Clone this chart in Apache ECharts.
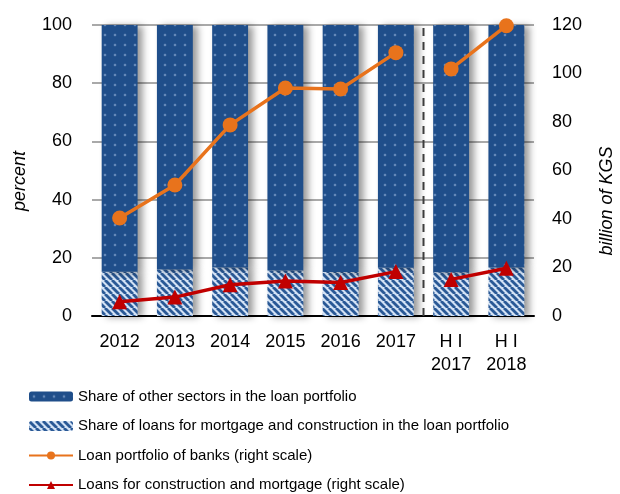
<!DOCTYPE html>
<html>
<head>
<meta charset="utf-8">
<script src="https://cdn.jsdelivr.net/npm/echarts@6/dist/echarts.min.js"></script>
<style>
    html, body { margin: 0; padding: 0; background: #fff; }
    #chart { width: 620px; height: 494px; }
</style>
</head>
<body>
<div id="chart"></div>
<script>
    var categories = ['2012', '2013', '2014', '2015', '2016', '2017', 'H I\n2017', 'H I\n2018'];
    var mortgageShare = [15.2, 16.0, 16.7, 15.6, 15.1, 16.6, 15.0, 16.7];
    var otherShare = [84.8, 84.0, 83.3, 84.4, 84.9, 83.4, 85.0, 83.3];
    var loanPortfolio = [40.4, 54.0, 78.8, 94.0, 93.6, 108.6, 101.9, 119.7];
    var constructionLoans = [5.9, 7.8, 12.9, 14.4, 13.8, 18.3, 15.1, 19.7];
    var breakIndex = 6; // dashed separator before half-year data

    var FONT = "'Liberation Sans Narrow', 'Arial Narrow', 'Liberation Sans', sans-serif";

    // dotted dark blue fill
    function dotPattern() {
        var c = document.createElement('canvas');
        c.width = 10; c.height = 10;
        var g = c.getContext('2d');
        g.fillStyle = '#1f4e8a';
        g.fillRect(0, 0, 10, 10);
        var rg = g.createRadialGradient(5, 5, 0, 5, 5, 2.2);
        rg.addColorStop(0, '#b5cdef');
        rg.addColorStop(1, 'rgba(31,78,138,0)');
        g.fillStyle = rg;
        g.fillRect(2, 2, 6, 6);
        return c;
    }

    // diagonal hatch fill
    function hatchPattern() {
        var s = 7;
        var c = document.createElement('canvas');
        c.width = s; c.height = s;
        var g = c.getContext('2d');
        g.fillStyle = '#d3e2f5';
        g.fillRect(0, 0, s, s);
        g.strokeStyle = '#2a5996';
        g.lineWidth = 2.8;
        for (var k = -1; k <= 1; k++) {
            g.beginPath();
            g.moveTo(k * s, 0);
            g.lineTo(k * s + s, s);
            g.stroke();
        }
        return c;
    }

    function firstPart(arr) {
        return arr.map(function (v, i) { return i < breakIndex ? v : '-'; });
    }
    function secondPart(arr) {
        return arr.map(function (v, i) { return i >= breakIndex ? v : '-'; });
    }

    var barShadow = {
        shadowColor: 'rgba(0,0,0,0.4)',
        shadowBlur: 7,
        shadowOffsetX: 5,
        shadowOffsetY: 1
    };

    var myChart = echarts.init(document.getElementById('chart'));

    var options = {
        animation: false,
        textStyle: { fontFamily: FONT },
        grid: { left: 92, right: 86, top: 25, bottom: 178 },
        legend: {
            orient: 'vertical',
            left: 28,
            top: 389,
            height: 140,
            padding: 0,
            itemWidth: 44,
            itemHeight: 10,
            itemGap: 14.5,
            textStyle: { fontFamily: FONT, fontSize: 15, color: '#000' },
            data: [
                'Share of other sectors in the loan portfolio',
                'Share of loans for mortgage and construction in the loan portfolio',
                'Loan portfolio of banks (right scale)',
                'Loans for construction and mortgage (right scale)'
            ]
        },
        xAxis: [{
            type: 'category',
            data: categories,
            axisLine: { lineStyle: { color: '#000', width: 2 } },
            axisTick: { inside: true, length: 5, lineStyle: { color: '#000', width: 1.5 } },
            axisLabel: { interval: 0, color: '#000', fontSize: 18, fontFamily: FONT, margin: 15, lineHeight: 23 }
        }, {
            type: 'value',
            min: 0,
            max: 8,
            show: false
        }],
        yAxis: [{
            type: 'value',
            min: 0,
            max: 100,
            interval: 20,
            axisLine: { show: false },
            axisTick: { show: false },
            splitLine: { lineStyle: { color: '#8c8c8c', width: 1.5 } },
            axisLabel: { color: '#000', fontSize: 18, fontFamily: FONT, margin: 20 }
        }, {
            type: 'value',
            min: 0,
            max: 120,
            interval: 20,
            axisLine: { show: false },
            axisTick: { show: false },
            splitLine: { show: false },
            axisLabel: { color: '#000', fontSize: 18, fontFamily: FONT, margin: 18 }
        }],
        graphic: [{
            type: 'text',
            x: 20, y: 181,
            rotation: Math.PI / 2,
            style: {
                text: 'percent', fontSize: 18, fontStyle: 'italic', fontFamily: FONT,
                fill: '#000', align: 'center', verticalAlign: 'middle'
            }
        }, {
            type: 'text',
            x: 607, y: 201,
            rotation: Math.PI / 2,
            style: {
                text: 'billion of KGS', fontSize: 18, fontStyle: 'italic', fontFamily: FONT,
                fill: '#000', align: 'center', verticalAlign: 'middle'
            }
        }],
        series: [
            {
                name: 'Share of loans for mortgage and construction in the loan portfolio',
                type: 'bar',
                stack: 'share',
                barWidth: '65%',
                itemStyle: Object.assign({ color: { image: hatchPattern(), repeat: 'repeat' } }, barShadow),
                data: mortgageShare
            },
            {
                name: 'Share of other sectors in the loan portfolio',
                type: 'bar',
                stack: 'share',
                barWidth: '65%',
                itemStyle: Object.assign({ color: { image: dotPattern(), repeat: 'repeat' } }, barShadow),
                data: otherShare
            },
            {
                name: 'separator',
                type: 'line',
                xAxisIndex: 1,
                yAxisIndex: 0,
                symbol: 'none',
                silent: true,
                lineStyle: { color: '#404040', width: 2, type: [8, 6] },
                data: [[breakIndex, 0], [breakIndex, 100]],
                z: 1
            },
            {
                name: 'Loan portfolio of banks (right scale)',
                type: 'line',
                yAxisIndex: 1,
                symbol: 'circle',
                symbolSize: 15,
                itemStyle: { color: '#e8731c' },
                lineStyle: { color: '#e8731c', width: 3.5 },
                data: firstPart(loanPortfolio),
                z: 5
            },
            {
                name: 'Loan portfolio of banks (right scale)',
                type: 'line',
                yAxisIndex: 1,
                symbol: 'circle',
                symbolSize: 15,
                itemStyle: { color: '#e8731c' },
                lineStyle: { color: '#e8731c', width: 3.5 },
                data: secondPart(loanPortfolio),
                z: 5
            },
            {
                name: 'Loans for construction and mortgage (right scale)',
                type: 'line',
                yAxisIndex: 1,
                symbol: 'triangle',
                symbolSize: 15,
                itemStyle: { color: '#c00000' },
                lineStyle: { color: '#c00000', width: 3.5 },
                data: firstPart(constructionLoans),
                z: 5
            },
            {
                name: 'Loans for construction and mortgage (right scale)',
                type: 'line',
                yAxisIndex: 1,
                symbol: 'triangle',
                symbolSize: 15,
                itemStyle: { color: '#c00000' },
                lineStyle: { color: '#c00000', width: 3.5 },
                data: secondPart(constructionLoans),
                z: 5
            }
        ]
    };
    myChart.setOption(options);
</script>
</body>
</html>
